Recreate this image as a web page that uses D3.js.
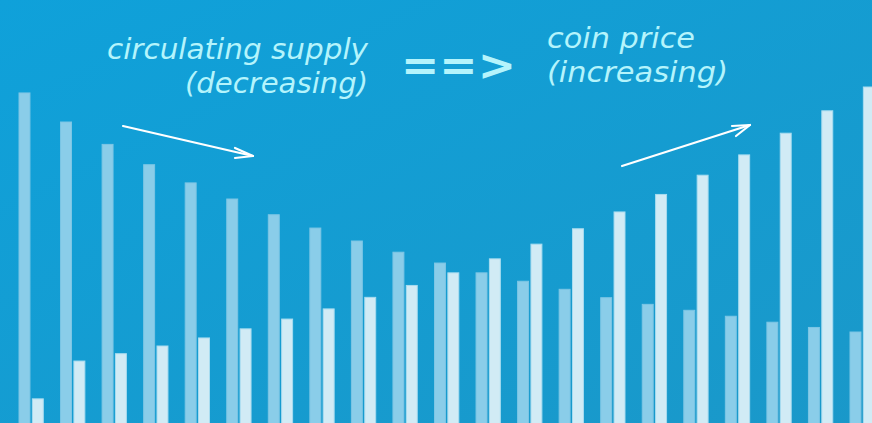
<!DOCTYPE html>
<html>
<head>
<meta charset="utf-8">
<script src="https://cdn.jsdelivr.net/npm/d3@7"></script>
<style>
html,body{margin:0;padding:0;background:#12a0d6;overflow:hidden;}
svg{display:block;}
</style>
</head>
<body>
<svg id="chart" width="872" height="423"></svg>
<script>
// ---- data ----
const periods = d3.range(1, 22).map(i => "P" + i);
const supplyValues = [94.3, 86.0, 79.6, 73.8, 68.6, 64.0, 59.5, 55.7, 52.0, 48.8, 45.7,
                      42.9, 40.5, 38.2, 35.8, 33.9, 32.2, 30.5, 28.8, 27.3, 26.0];
const priceValues  = [6.9, 17.7, 19.8, 22.0, 24.3, 26.9, 29.7, 32.6, 35.9, 39.3, 42.9,
                      46.9, 51.1, 55.5, 60.3, 65.3, 70.8, 76.6, 82.8, 89.2, 96.0];
const seriesKeys = ["supply", "price"];
const labelLeft = ["circulating supply", "(decreasing)"];
const labelRight = ["coin price", "(increasing)"];
const connector = "==>";

const W = 872, H = 423;
const svg = d3.select("#chart");

// background gradient
const defs = svg.append("defs");
const grad = defs.append("linearGradient").attr("id", "bg")
  .attr("x1", "0%").attr("y1", "0%").attr("x2", "100%").attr("y2", "100%");
grad.append("stop").attr("offset", "0%").attr("stop-color", "#0fa1da");
grad.append("stop").attr("offset", "100%").attr("stop-color", "#1a98c9");
svg.append("rect").attr("width", W).attr("height", H).attr("fill", "url(#bg)");

const table = periods.map((p, i) => ({ period: p, supply: supplyValues[i], price: priceValues[i] }));

const x0 = d3.scaleBand().domain(periods).range([19, 874.3]).paddingInner(0.415).paddingOuter(0);
const x1 = d3.scaleBand().domain(seriesKeys).range([0, x0.bandwidth()]).paddingInner(0.18).paddingOuter(0);
const y = d3.scaleLinear().domain([0, 100]).range([H, 73]);

const fills = { supply: "#8acde9", price: "#d1ebf5" };
const strokes = { supply: "#7cc6e5", price: "#a8dcf0" };

const groups = svg.append("g").selectAll("g").data(table).join("g")
  .attr("transform", d => `translate(${x0(d.period)},0)`);
groups.selectAll("rect").data(d => seriesKeys.map(k => ({ key: k, value: d[k] }))).join("rect")
  .attr("x", d => x1(d.key))
  .attr("y", d => y(d.value))
  .attr("width", x1.bandwidth())
  .attr("height", d => H - y(d.value) + 2)
  .attr("fill", d => fills[d.key])
  .attr("stroke", d => strokes[d.key])
  .attr("stroke-width", 1);

// annotation text
const txtColor = "#b4f4fc";
const font = "'DejaVu Sans', sans-serif";
const ann = svg.append("g").attr("fill", txtColor).attr("font-family", font)
  .attr("font-style", "italic").attr("font-weight", "300");

function addText(str, xPos, yPos, len, size, anchor) {
  ann.append("text").text(str)
    .attr("x", xPos).attr("y", yPos)
    .attr("font-size", size)
    .attr("text-anchor", anchor)
    .attr("textLength", len)
    .attr("lengthAdjust", "spacingAndGlyphs");
}
addText(labelLeft[0], 107, 59, 261, 29, "start");
addText(labelLeft[1], 185, 93, 183, 29, "start");
addText(labelRight[0], 547, 48, 148, 29, "start");
addText(labelRight[1], 547, 82, 181, 29, "start");

svg.append("text").text(connector)
  .attr("x", 401).attr("y", 80)
  .attr("fill", txtColor)
  .attr("font-family", font)
  .attr("font-weight", "bold")
  .attr("font-size", 42)
  .attr("textLength", 115)
  .attr("lengthAdjust", "spacingAndGlyphs");

// arrows
const arrows = svg.append("g").attr("stroke", "#ffffff").attr("stroke-width", 2.2)
  .attr("fill", "none").attr("stroke-linecap", "round").attr("stroke-linejoin", "round");
const line = d3.line();
arrows.append("path").attr("d", line([[123, 126], [253, 156]]));
arrows.append("path").attr("d", line([[235, 148], [253, 156], [235, 158]]));
arrows.append("path").attr("d", line([[622, 166], [750, 125]]));
arrows.append("path").attr("d", line([[732, 126], [750, 125], [736, 136]]));
</script>
</body>
</html>
